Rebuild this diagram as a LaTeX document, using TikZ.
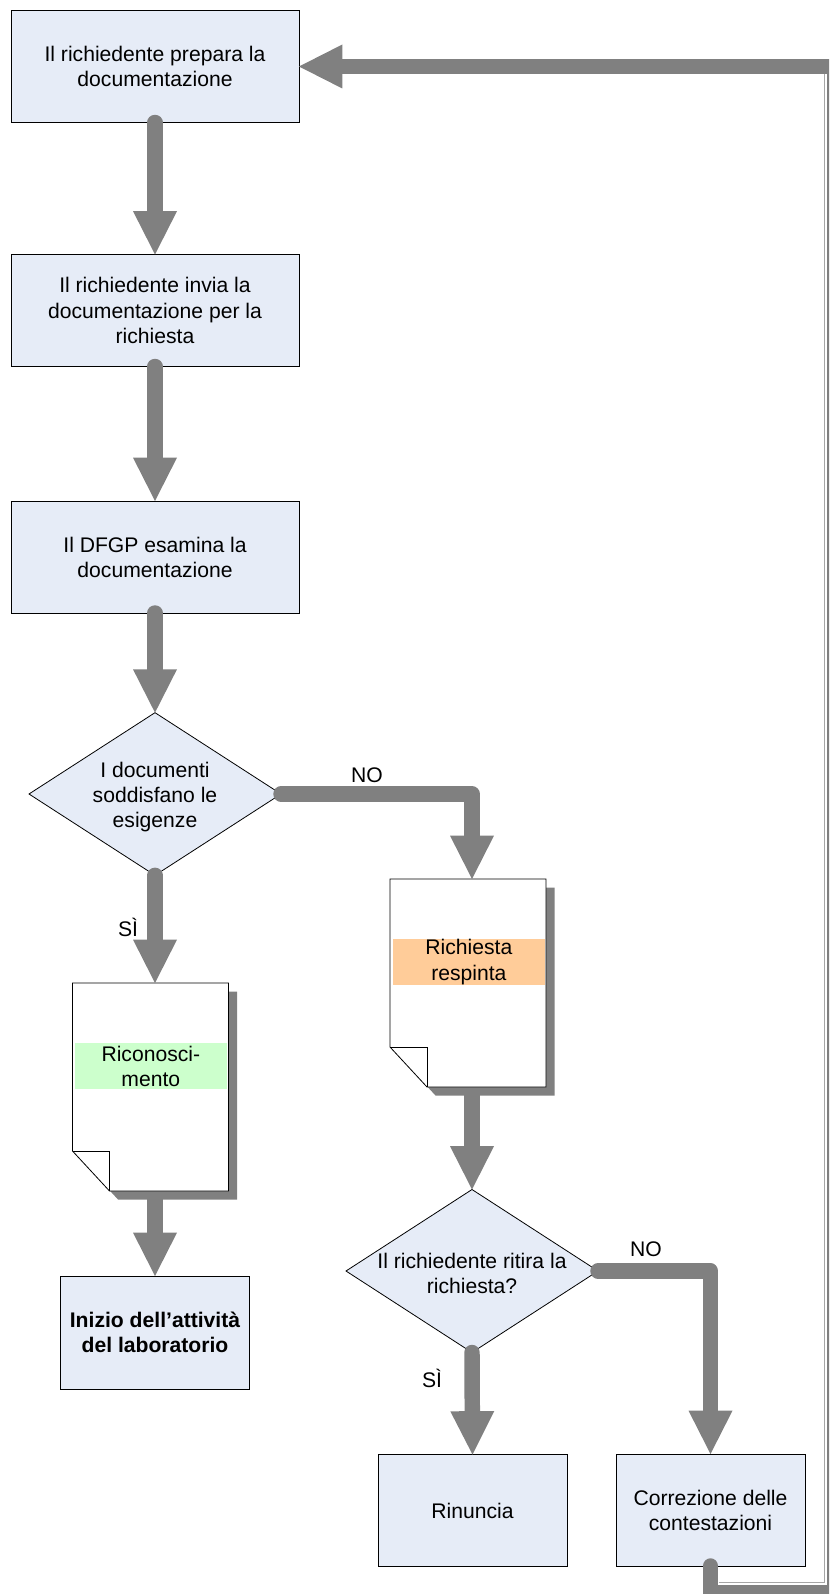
\documentclass[tikz,border=0pt]{standalone}
\usepackage{fontspec}
\setmainfont{Liberation Sans}
\usetikzlibrary{arrows.meta,shapes.geometric}
\definecolor{boxfill}{HTML}{E6ECF7}
\definecolor{flowgray}{HTML}{808080}
\definecolor{greenband}{HTML}{CCFFCC}
\definecolor{orangeband}{HTML}{FFCC99}
\pgfdeclarelayer{bg}
\pgfsetlayers{bg,main}
\tikzset{
  proc/.style={draw=black, line width=0.6pt, fill=boxfill, minimum width=216pt, minimum height=84pt, inner sep=0pt, outer sep=0pt, align=center},
  smallproc/.style={proc, minimum width=141.75pt},
  decision/.style={diamond, draw=black, line width=0.6pt, fill=boxfill, minimum width=189pt, minimum height=122pt, inner sep=0pt, outer sep=0pt},
  txt/.style={align=center, inner sep=0pt},
  docarea/.style={minimum width=117pt, minimum height=156pt, inner sep=0pt, outer sep=0pt},
  band/.style={minimum width=114pt, minimum height=34.5pt, inner sep=0pt, align=center},
  docline/.style={draw=black, line width=0.6pt},
  flow/.style={draw=flowgray, line width=11.6pt, line cap=round, line join=round, -{Triangle[width=33pt,length=32.5pt,line width=0pt]}},
  halo/.style={draw=black!35, line width=0.6pt},
  lbl/.style={inner sep=0pt},
}
\newcommand\docshape[1]{%
  \fill[flowgray] ([shift={(8.5,8.5)}]#1.north west) -- ([shift={(8.5,8.5)}]#1.north east) -- ([shift={(8.5,8.5)}]#1.south east) -- ([shift={(45.5,8.5)}]#1.south west) -- ([shift={(8.5,-31.5)}]#1.south west) -- cycle;
  \draw[docline, fill=white] (#1.north west) -- (#1.north east) -- (#1.south east) -- ([shift={(37,0)}]#1.south west) -- ([shift={(0,-40)}]#1.south west) -- cycle;
  \draw[docline] ([shift={(0,-40)}]#1.south west) -- ([shift={(37,-40)}]#1.south west) -- ([shift={(37,0)}]#1.south west);
}
\begin{document}
\begin{tikzpicture}[x=0.75pt,y=-0.75pt,font=\fontsize{15.85pt}{18.8pt}\selectfont]
\clip (0,0) rectangle (829,1594);
\node[proc] (b1) at (155,66.5) {Il richiedente prepara la\\documentazione};
\node[proc] (b2) at (155,310.5) {Il richiedente invia la\\documentazione per la\\richiesta};
\node[proc] (b3) at (155,557) {Il DFGP esamina la\\documentazione};
\node[decision] (d1) at (155,794) {};
\node[txt] (d1t) at (155,797) {I documenti\\soddisfano le\\esigenze};
\node[docarea] (doc1) at (150.5,1087) {};
\node[docarea] (doc2) at (468,983) {};
\docshape{doc1}
\docshape{doc2}
\node[band, fill=greenband] (doc1t) at (150.85,1066) {Riconosci-\\mento};
\node[band, fill=orangeband] (doc2t) at (468.85,962) {Richiesta\\respinta};
\node[decision, minimum height=122.25pt] (d2) at (472,1271) {};
\node[txt] (d2t) at (472,1273) {Il richiedente ritira la\\richiesta?};
\node[smallproc, minimum height=84.75pt, font=\fontsize{15.85pt}{18.8pt}\selectfont\bfseries] (ini) at (155,1332.5) {Inizio dell’attività\\del laboratorio};
\node[smallproc] (rin) at (472.5,1510.5) {Rinuncia};
\node[smallproc] (corr) at (710.5,1510) {Correzione delle\\contestazioni};
\node[lbl] (no1) at (367,775) {NO};
\node[lbl] (si1) at (128,927) {SÌ};
\node[lbl] (no2) at (646,1249) {NO};
\node[lbl] (si2) at (432,1378) {SÌ};
\draw[flow] (b1.south) -- (b2.north);
\draw[flow] (b2.south) -- (b3.north);
\draw[flow] (b3.south) -- (d1.north);
\draw[flow] (d1.east) -| ([xshift=3pt]doc2.north);
\draw[flow] (d1.south) -- ([xshift=3.375pt]doc1.north);
\begin{pgfonlayer}{bg}
\draw[flow] ([xshift=3.375pt]doc1.south) -- (ini.north);
\draw[flow] ([xshift=3pt]doc2.south) -- (d2.north);
\end{pgfonlayer}
\draw[flow] (d2.south) -- (rin.north);
\draw[flow] (d2.east) -| (corr.north);
\coordinate (lp1) at (710.5,1592.5);
\coordinate (lp2) at (834.5,1592.5);
\coordinate (lp3) at (834.5,66.5);
\coordinate (h1) at (718.5,1582);
\coordinate (h2) at (824.8,1582);
\coordinate (h3) at (824.8,74.5);
\draw[halo] (h1) -- (h2) -- (h3);
\draw[flow] (corr.south) -- (lp1) -- (lp2) -- (lp3) -- (b1.east);
\end{tikzpicture}
\end{document}
